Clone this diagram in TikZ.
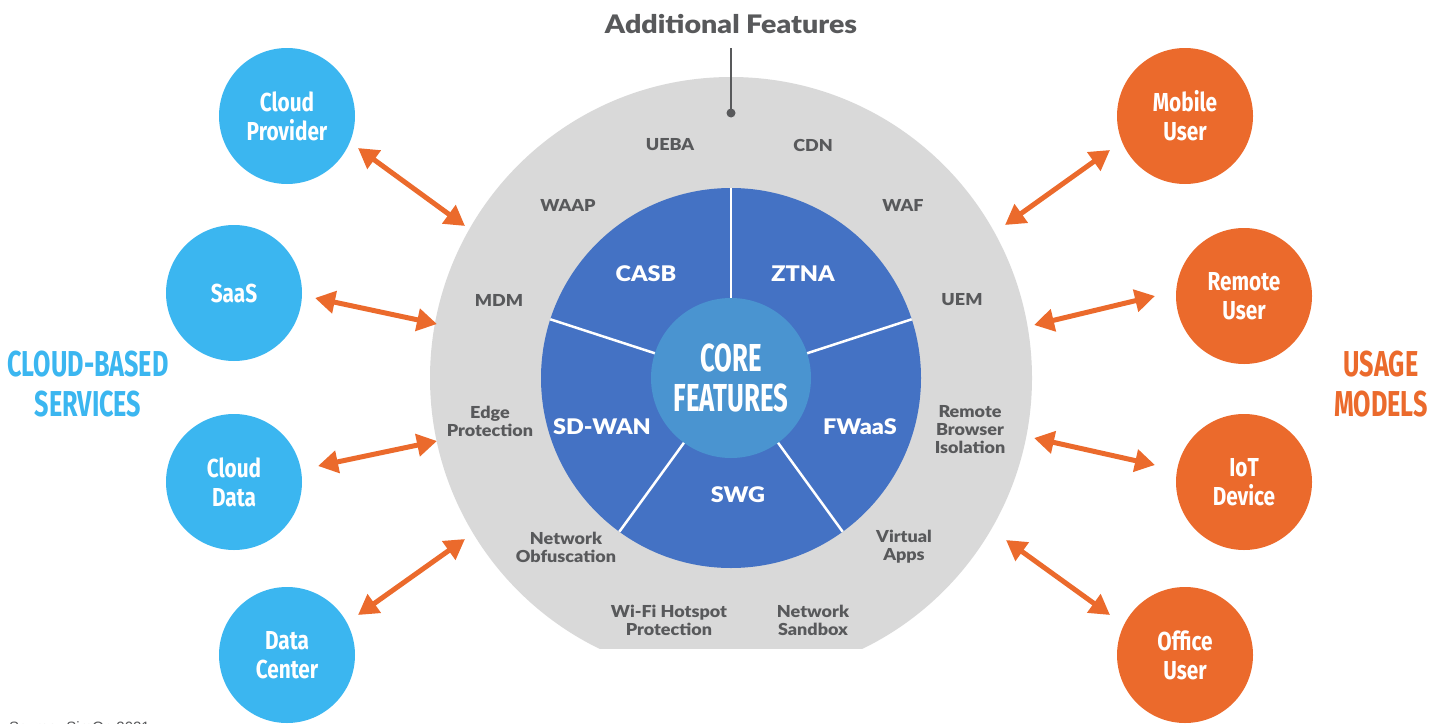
\documentclass[tikz,border=0pt]{standalone}
\usepackage{fontspec}
\setmainfont{Lato}
\newfontfamily\heavyf[FakeStretch=1.09]{Lato Black}
\newfontfamily\titlef[FakeStretch=1.12]{Lato Black}
\newfontfamily\condf[FakeStretch=0.8]{Fira Sans}
\newfontfamily\bebasf[FakeStretch=0.66]{Fira Sans}
\newfontfamily\sidef[FakeStretch=0.7]{Fira Sans}
\newfontfamily\arialf{Liberation Sans}
\usetikzlibrary{arrows.meta}
\definecolor{cblue}{HTML}{3BB6F0}
\definecolor{corange}{HTML}{EB6A2C}
\definecolor{cgrey}{HTML}{D9D9D9}
\definecolor{cpent}{HTML}{4472C4}
\definecolor{ccore}{HTML}{4A94D0}
\definecolor{ctext}{HTML}{58595B}
\begin{document}
\begin{tikzpicture}[x=1pt,y=1pt,
  svc/.style={circle,fill=cblue,minimum size=136pt,inner sep=0pt,text=white,align=center,font=\condf\bfseries\fontsize{26}{29}\selectfont},
  usr/.style={svc,fill=corange},
  feat/.style={text=ctext,align=center,font=\heavyf\fontsize{16.5}{18}\selectfont},
  seg/.style={text=white,font=\heavyf\fontsize{21.5}{26}\selectfont},
  arr/.style={draw=corange,line width=5pt,{Triangle[length=20pt,width=22pt]}-{Triangle[length=20pt,width=22pt]}},
  big/.style={align=center,font=\sidef\bfseries\fontsize{36}{40}\selectfont}
]
\useasboundingbox (0,0) rectangle (1445,-723);
% outer ring
\begin{scope}
\clip (0,-648) rectangle (1445,0);
\fill[cgrey] (731,-378) circle[radius=301];
\end{scope}
% core pie
\fill[cpent] (731,-378) circle[radius=190];
\foreach \a in {90,18,-54,-126,162}
  \draw[white,line width=2.5pt] (731,-378) ++(\a:79) -- ++(\a:111);
\node[circle,fill=ccore,minimum size=160pt,inner sep=0pt,text=white,align=center,
  font=\bebasf\bfseries\fontsize{39}{40}\selectfont] (core) at (731,-378) {CORE\\FEATURES};
% segments
\node[seg] (casb) at (646,-274) {CASB};
\node[seg] (ztna) at (803,-274) {ZTNA};
\node[seg] (sdwan) at (602,-427) {SD-WAN};
\node[seg] (fwaas) at (860,-427) {FWaaS};
\node[seg] (swg) at (738,-495) {SWG};
% additional features
\node[feat] (ueba) at (670,-145) {UEBA};
\node[feat] (cdn) at (813,-145) {CDN};
\node[feat] (waap) at (568,-205) {WAAP};
\node[feat] (waf) at (903,-205) {WAF};
\node[feat] (mdm) at (499,-300) {MDM};
\node[feat] (uem) at (962,-300) {UEM};
\node[feat] (edge) at (490,-421) {Edge\\Protection};
\node[feat] (rbi) at (970,-430) {Remote\\Browser\\Isolation};
\node[feat] (nobf) at (566,-547) {Network\\Obfuscation};
\node[feat] (vapps) at (904,-547) {Virtual\\Apps};
\node[feat] (wifi) at (669,-620) {Wi-Fi Hotspot\\Protection};
\node[feat] (nsb) at (813,-620) {Network\\Sandbox};
% title
\node[text=ctext,font=\titlef\fontsize{25.5}{30}\selectfont] (title) at (731,-24) {Additional Features};
\coordinate (dot) at (731,-113);
\draw[ctext,line width=2pt,shorten <=11pt] (title.south) -- (dot);
\fill[ctext] (dot) circle[radius=4.5];
% side circles
\node[svc] (cp) at (287,-116) {Cloud\\Provider};
\node[svc] (saas) at (234,-293) {SaaS};
\node[svc] (cd) at (234,-482) {Cloud\\Data};
\node[svc] (dc) at (287,-655) {Data\\Center};
\node[usr] (mu) at (1185,-116) {Mobile\\User};
\node[usr] (ru) at (1244,-296) {Remote\\User};
\node[usr] (iot) at (1244,-482) {IoT\\Device};
\node[usr] (ou) at (1185,-655) {Office\\User};
% arrows
\coordinate (a1) at (358,-148); \coordinate (b1) at (465,-226);
\coordinate (a2) at (315,-298); \coordinate (b2) at (437,-324);
\coordinate (a3) at (318,-466); \coordinate (b3) at (437,-441);
\coordinate (a4) at (358,-615); \coordinate (b4) at (465,-539);
\coordinate (a5) at (1110,-150); \coordinate (b5) at (1005,-225);
\coordinate (a6) at (1155,-296); \coordinate (b6) at (1034,-325);
\coordinate (a7) at (1155,-465); \coordinate (b7) at (1034,-438);
\coordinate (a8) at (1110,-615); \coordinate (b8) at (1006,-540);
\foreach \i in {1,...,8} \draw[arr] (a\i) -- (b\i);
% side titles
\node[big,text=cblue] (cbs) at (88,-384) {CLOUD-BASED\\SERVICES};
\node[big,text=corange] (um) at (1381,-384) {USAGE\\MODELS};
% source
\node[anchor=base west,inner sep=0pt,text=ctext,font=\arialf\fontsize{15}{15}\selectfont] (src) at (9,-732) {Source: SimOn 2021};
\end{tikzpicture}
\end{document}
